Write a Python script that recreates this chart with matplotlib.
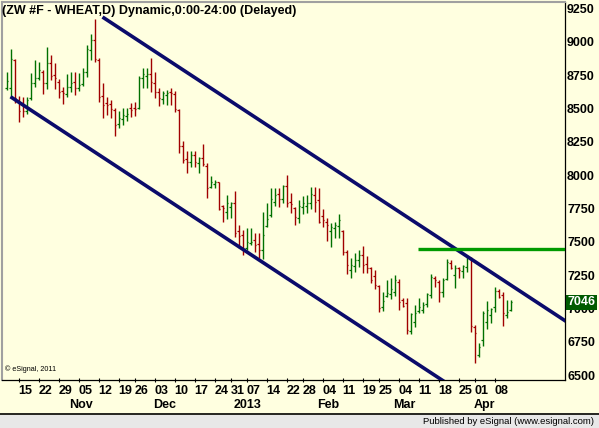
import numpy as np
import pandas as pd
import matplotlib
matplotlib.use("Agg")
import matplotlib.pyplot as plt
from matplotlib.patches import Rectangle

plt.rcParams['font.family'] = ['Liberation Sans', 'DejaVu Sans']

W, H = 599, 428
BG = "#ffffe0"
GREEN_BAR = "#007000"
RED_BAR = "#a00000"
NAVY = "#0b0b6b"

# ---- data: daily OHLC, ZW #F, 10 Oct 2012 .. 12 Apr 2013 --------------------
holidays = ["2012-11-22", "2012-12-25", "2013-01-01", "2013-01-21",
            "2013-02-18", "2013-03-29"]
dates = pd.bdate_range("2012-10-10", "2013-04-12")
dates = dates[~dates.isin(pd.to_datetime(holidays))]

opens = [8655, 8650, 8860, 8560, 8540, 8480, 8580, 8690, 8730, 8770,
         8690, 8840, 8750, 8700, 8630, 8610, 8660, 8700, 8650, 8680,
         8770, 8940, 9010, 8860, 8590, 8540, 8530, 8490, 8380, 8420,
         8440, 8500, 8500, 8500, 8730, 8740, 8760, 8690, 8620, 8570,
         8600, 8625, 8610, 8490, 8220, 8120, 8100, 8150, 8090, 8130,
         8070, 7910, 7930, 7950, 7765, 7720, 7760, 7790, 7580, 7550,
         7450, 7490, 7510, 7480, 7440, 7620, 7700, 7800, 7860, 7820,
         7920, 7800, 7750, 7680, 7760, 7770, 7790, 7850, 7810, 7690,
         7650, 7580, 7600, 7620, 7580, 7420, 7290, 7320, 7360, 7400,
         7330, 7300, 7240, 7170, 7010, 7090, 7110, 7120, 7200, 7060,
         7040, 6830, 6900, 6980, 6990, 7030, 7100, 7230, 7200, 7120,
         7220, 7340, 7250, 7300, 7280, 7310, 7370, 6860, 6650, 6760,
         6900, 6950, 7010, 7130, 7100, 6950, 6990]
highs = [8770, 8945, 8870, 8592, 8587, 8587, 8762, 8862, 8850, 8787,
         8957, 8900, 8837, 8717, 8662, 8755, 8775, 8775, 8762, 8805,
         8975, 9057, 9170, 8875, 8687, 8582, 8562, 8500, 8480, 8505,
         8505, 8537, 8545, 8742, 8800, 8805, 8875, 8775, 8650, 8630,
         8637, 8655, 8630, 8495, 8255, 8180, 8180, 8180, 8137, 8230,
         8087, 7995, 7962, 7950, 7775, 7850, 7800, 7880, 7625, 7587,
         7605, 7605, 7562, 7562, 7725, 7787, 7900, 7900, 7900, 7925,
         8000, 7862, 7762, 7812, 7842, 7850, 7912, 7907, 7900, 7742,
         7675, 7637, 7650, 7707, 7587, 7437, 7375, 7412, 7437, 7467,
         7392, 7312, 7287, 7175, 7125, 7212, 7225, 7250, 7220, 7080,
         7075, 6967, 7025, 7075, 7050, 7112, 7257, 7242, 7212, 7225,
         7367, 7362, 7325, 7312, 7325, 7400, 7387, 6875, 6742, 6982,
         7057, 7000, 7160, 7142, 7125, 7060, 7060]
lows = [8637, 8587, 8537, 8400, 8437, 8455, 8562, 8662, 8712, 8605,
        8645, 8712, 8645, 8575, 8530, 8587, 8625, 8600, 8630, 8670,
        8737, 8862, 8850, 8545, 8430, 8450, 8425, 8295, 8355, 8375,
        8405, 8437, 8445, 8495, 8650, 8650, 8620, 8580, 8517, 8530,
        8525, 8525, 8470, 8162, 8087, 8012, 8062, 8062, 8012, 8070,
        7825, 7905, 7900, 7737, 7645, 7670, 7675, 7537, 7450, 7400,
        7437, 7475, 7420, 7375, 7367, 7607, 7687, 7767, 7757, 7792,
        7757, 7712, 7625, 7637, 7707, 7712, 7742, 7725, 7642, 7612,
        7507, 7462, 7525, 7525, 7400, 7257, 7225, 7275, 7312, 7262,
        7267, 7192, 7142, 6975, 6980, 7087, 7067, 7090, 6990, 7007,
        6807, 6807, 6862, 6967, 6962, 7012, 7075, 7162, 7050, 7087,
        7212, 7292, 7150, 7225, 7225, 7275, 6820, 6592, 6637, 6720,
        6842, 6887, 6970, 7075, 6867, 6930, 6980]
closes = [8705, 8867, 8575, 8482, 8482, 8562, 8687, 8725, 8787, 8687,
          8837, 8745, 8725, 8620, 8612, 8662, 8687, 8650, 8675, 8770,
          8942, 9012, 8870, 8587, 8525, 8525, 8495, 8375, 8425, 8450,
          8455, 8487, 8492, 8730, 8755, 8755, 8695, 8620, 8575, 8612,
          8612, 8612, 8492, 8220, 8112, 8100, 8150, 8100, 8125, 8080,
          7905, 7950, 7950, 7745, 7750, 7787, 7787, 7562, 7545, 7437,
          7500, 7500, 7475, 7440, 7550, 7667, 7817, 7850, 7817, 7917,
          7787, 7780, 7687, 7767, 7792, 7787, 7855, 7800, 7650, 7662,
          7625, 7612, 7625, 7662, 7425, 7325, 7325, 7362, 7400, 7325,
          7300, 7212, 7175, 7000, 7057, 7117, 7142, 7210, 7050, 7020,
          6837, 6957, 6967, 7012, 7025, 7107, 7237, 7212, 7125, 7212,
          7350, 7300, 7300, 7287, 7317, 7375, 6870, 6812, 6712, 6967,
          6987, 6992, 7132, 7087, 6962, 6975, 7046]
last_price = 7046

# drawn studies: channel lines and resistance line (bar index, price)
upper_x = [24, 140]
upper_y = [9185, 6900]
lower_x = [1, 140]
lower_y = [8587, 5849]
resist_x = [102.75, 140]
resist_y = [7443, 7443]

yticks = list(range(6500, 9251, 250))

# ---- figure -----------------------------------------------------------------
fig = plt.figure(figsize=(W / 100, H / 100), dpi=100, facecolor=BG)
ax = fig.add_axes([2 / W, 48 / H, 563 / W, 378 / H], facecolor=BG)
ax.set_xlim(-1.125, 139.625)
ax.set_ylim(6462.5, 9297.5)

x = np.arange(len(dates))
cols = [GREEN_BAR if c >= o else RED_BAR for o, c in zip(opens, closes)]
ax.vlines(x, lows, highs, colors=cols, lw=1.0, zorder=3)
ax.hlines(opens, x - 0.45, x, colors=cols, lw=0.9, zorder=3)
ax.hlines(closes, x, x + 0.45, colors=cols, lw=0.9, zorder=3)

ax.plot(upper_x, upper_y, color=NAVY, lw=2.6, solid_capstyle="butt", zorder=4)
ax.plot(lower_x, lower_y, color=NAVY, lw=2.6, solid_capstyle="butt", zorder=4)
ax.plot(resist_x, resist_y, color="#009a00", lw=2.4, solid_capstyle="butt", zorder=4)

# spines
for s in ("left", "top"):
    ax.spines[s].set_color("#a0a0a0")
    ax.spines[s].set_linewidth(1.5)
for s in ("right", "bottom"):
    ax.spines[s].set_color("black")
    ax.spines[s].set_linewidth(0.9)

# right price axis
ax.yaxis.tick_right()
ax.set_yticks(yticks)
ax.set_yticklabels([str(v) for v in yticks])
ax.tick_params(axis="y", length=0, pad=1.5, labelsize=9)
for t in ax.get_yticklabels():
    t.set_fontweight("bold")

# week ticks (first trading day of each full week) and month labels
wk = dates.to_period("W")
week_pos = [i for i in range(1, len(dates)) if wk[i] != wk[i - 1]]
mo = dates.to_period("M")
month_pos = [i for i in range(1, len(dates)) if mo[i] != mo[i - 1]]

ax.set_xticks(week_pos)
ax.set_xticklabels([dates[i].strftime("%d") for i in week_pos])
ax.tick_params(axis="x", direction="inout", length=3.5, width=0.8, pad=1.5,
               labelsize=9)
for t in ax.get_xticklabels():
    t.set_ha("left")
    t.set_fontweight("bold")

for i in month_pos:
    d = dates[i]
    lab = str(d.year) if d.month == 1 else d.strftime("%b")
    ax.text(i - 0.3, -0.066, lab, transform=ax.get_xaxis_transform(),
            ha="left", va="center", fontsize=9, fontweight="bold")

# last price box
ax.text(1.004, last_price, str(last_price), transform=ax.get_yaxis_transform(),
        ha="left", va="center", fontsize=9, fontweight="bold", color="white",
        bbox=dict(boxstyle="square,pad=0.12", fc="#005a00", ec="none"),
        zorder=6, clip_on=False)

# title and credit
ax.text(0.0, 0.993, "(ZW #F - WHEAT,D) Dynamic,0:00-24:00 (Delayed)",
        transform=ax.transAxes, ha="left", va="top", fontsize=9,
        fontweight="bold", zorder=10)
ax.text(0.006, 0.018, "\u00a9 eSignal, 2011", transform=ax.transAxes,
        ha="left", va="bottom", fontsize=5.2)

# bottom status strip
fig.patches.append(Rectangle((0, 0), 1, 13.5 / H, transform=fig.transFigure,
                             fc="#e8e8e8", ec="none", zorder=0))
fig.lines.append(plt.Line2D([0, 1], [14 / H, 14 / H], transform=fig.transFigure,
                            color="black", lw=1.2))
fig.text(594 / W, 7 / H, "Published by eSignal (www.esignal.com)",
         ha="right", va="center", fontsize=6.8)

fig.savefig("out.png", dpi=100, facecolor=BG)
